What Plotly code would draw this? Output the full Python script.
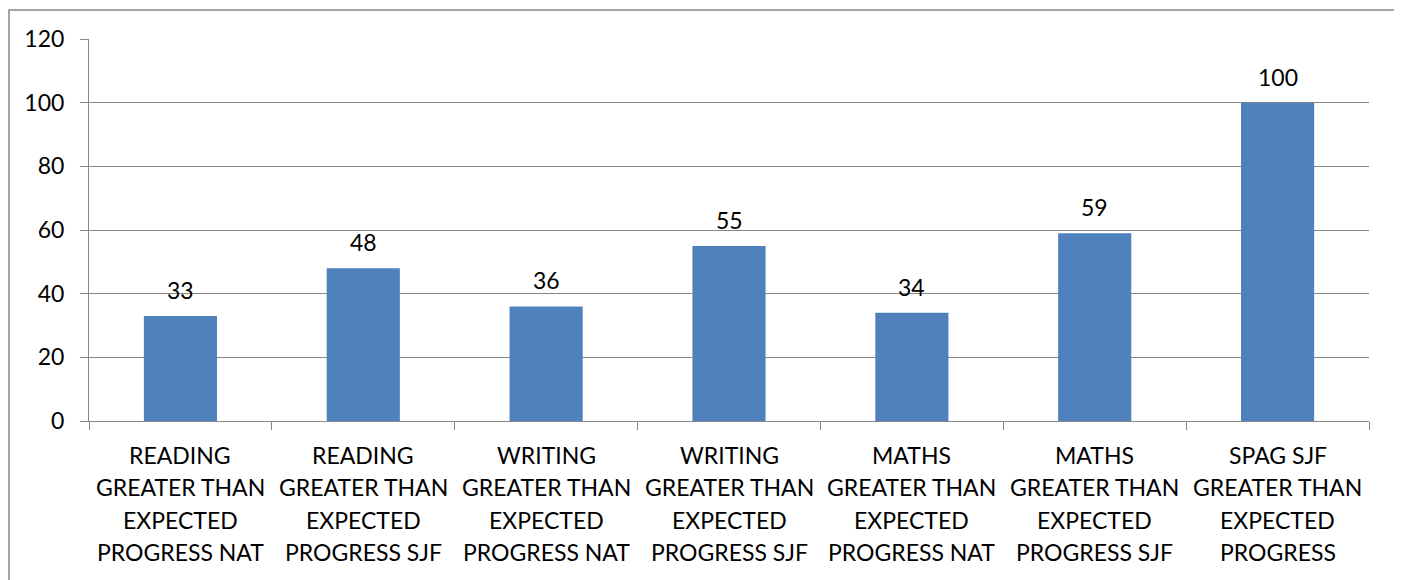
import plotly.graph_objects as go

categories = [
    "READING<br>GREATER THAN<br>EXPECTED<br>PROGRESS NAT",
    "READING<br>GREATER THAN<br>EXPECTED<br>PROGRESS SJF",
    "WRITING<br>GREATER THAN<br>EXPECTED<br>PROGRESS NAT",
    "WRITING<br>GREATER THAN<br>EXPECTED<br>PROGRESS SJF",
    "MATHS<br>GREATER THAN<br>EXPECTED<br>PROGRESS NAT",
    "MATHS<br>GREATER THAN<br>EXPECTED<br>PROGRESS SJF",
    "SPAG SJF<br>GREATER THAN<br>EXPECTED<br>PROGRESS",
]
values = [33, 48, 36, 55, 34, 59, 100]
y_ticks = [0, 20, 40, 60, 80, 100, 120]

FONT = "Lato"
FS = 23
GRID = "#878787"
# page body has an 8px margin, so the figure is sized to fit the window
W, H = 1394, 572
ml, mr, mt, mb = 81, 33, 31, 159
pw, ph = W - ml - mr, H - mt - mb

fig = go.Figure()
fig.add_trace(go.Bar(
    x=categories, y=values,
    marker=dict(color="#4F81BD", line=dict(width=0)),
    width=0.4, hoverinfo="skip",
))

annotations = []
for cat, v in zip(categories, values):
    annotations.append(dict(x=cat, y=v, xref="x", yref="y", text=str(v),
                            showarrow=False, yanchor="bottom", yshift=10,
                            font=dict(family=FONT, size=FS, color="black")))
    for j, line in enumerate(cat.split("<br>")):
        annotations.append(dict(x=cat, y=0, xref="x", yref="y", text=line,
                                showarrow=False, yanchor="middle",
                                yshift=-34 - 32.3 * j,
                                font=dict(family=FONT, size=FS, color="black")))

fig.update_layout(
    width=W, height=H,
    margin=dict(l=ml, r=mr, t=mt, b=mb),
    paper_bgcolor="white", plot_bgcolor="white",
    showlegend=False,
    font=dict(family=FONT, size=FS, color="black"),
    annotations=annotations,
    shapes=[dict(type="rect", xref="paper", yref="paper",
                 x0=(1 - ml) / pw, x1=(1389 - ml) / pw,
                 y0=-(H + 20 - (H - mb)) / ph,
                 y1=(H - mb - 2) / ph,
                 line=dict(color=GRID, width=1.5), layer="below")],
    xaxis=dict(type="category",
               showticklabels=False,
               tickson="boundaries", ticks="outside", ticklen=8,
               tickcolor=GRID, tickwidth=1,
               showline=True, linecolor=GRID, linewidth=1,
               showgrid=False, zeroline=False, fixedrange=True),
    yaxis=dict(range=[0, 120], tickvals=y_ticks,
               ticks="outside", ticklen=8, tickcolor=GRID, tickwidth=1,
               showline=True, linecolor=GRID, linewidth=1,
               showgrid=True, gridcolor=GRID, gridwidth=1,
               zeroline=False, ticklabelstandoff=11,
               tickfont=dict(family=FONT, size=FS, color="black"),
               fixedrange=True),
)

fig.write_html("out.html", config={"displayModeBar": False})
